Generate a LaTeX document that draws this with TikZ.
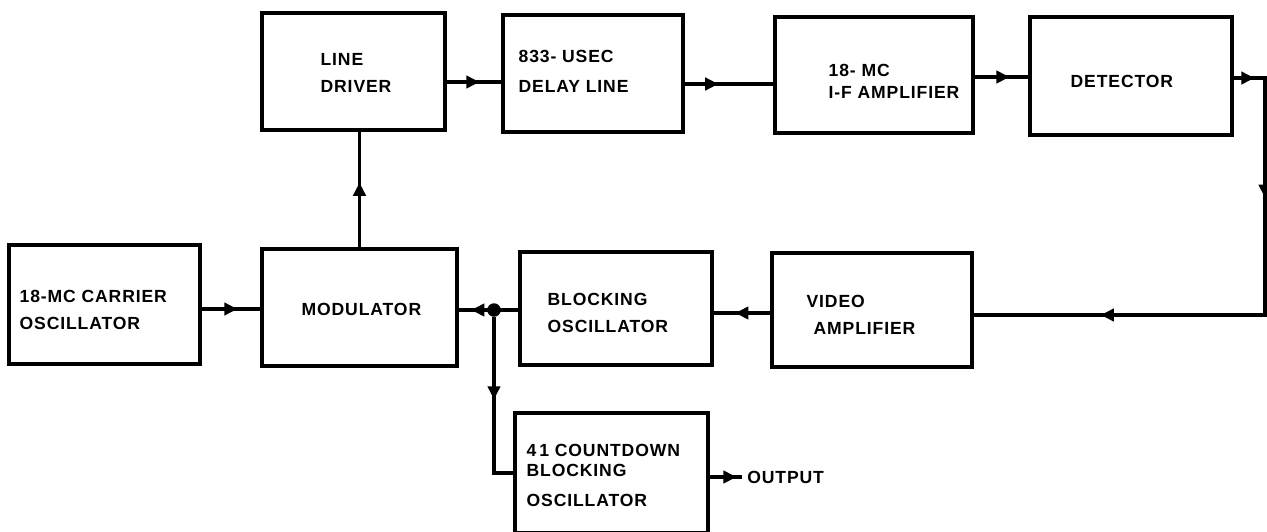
\documentclass[tikz,border=0pt]{standalone}
\usepackage{fontspec}
\newfontfamily\blockfont{Liberation Sans}[LetterSpace=5]
\usetikzlibrary{arrows.meta,decorations.markings,positioning}

\tikzset{
  blk/.style={draw, line width=2pt, rectangle, minimum height=2.34cm, inner sep=0pt},
  lbl/.style={font={\blockfont\bfseries\fontsize{10}{15}\selectfont}, align=left, inner sep=0pt, anchor=north west},
  wire/.style={line width=2pt},
  tipat/.style={postaction={decorate, decoration={markings,
      mark=at position #1 with {\arrow{Triangle[length=7.5pt,width=7pt]}}}}},
  dot/.style={circle, fill, inner sep=0pt, minimum size=0.27cm},
}

\begin{document}
\begin{tikzpicture}[x=0.02cm, y=-0.02cm]
\useasboundingbox (0,0) rectangle (1267,531);

% blocks
\node[blk, minimum width=3.82cm, minimum height=2.38cm] (carrier) at (104.5,304.5) {};
\node[blk, minimum width=3.9cm] (modulator) at (359.5,307.5) {};
\node[blk, minimum width=3.66cm] (linedrv) at (353.5,71.5) {};
\node[blk, minimum width=3.6cm] (delay) at (593,73.5) {};
\node[blk, minimum width=3.96cm, minimum height=2.32cm] (ifamp) at (874,75) {};
\node[blk, minimum width=4.04cm, minimum height=2.36cm] (detector) at (1131,76) {};
\node[blk, minimum width=4cm, minimum height=2.28cm] (video) at (872,310) {};
\node[blk, minimum width=3.84cm, minimum height=2.26cm] (blocking) at (616,308.5) {};
\node[blk, minimum width=3.86cm, minimum height=2.4cm] (countdown) at (611.5,473) {};

% labels
\node[lbl] (carrierT) at ([shift={(12,47)}]carrier.north west) {18-MC CARRIER\\OSCILLATOR};
\node[lbl] (modulatorT) at ([shift={(41,56)}]modulator.north west) {MODULATOR};
\node[lbl] (linedrvT) at ([shift={(60,42)}]linedrv.north west) {LINE\\DRIVER};
\node[lbl] (delayT) at ([shift={(17,37)}]delay.north west) {833- USEC\\[1.7pt]DELAY LINE};
\node[lbl] (ifampT) at ([shift={(55,49)}]ifamp.north west) {18- MC\\[-2.8pt]I-F AMPLIFIER};
\node[lbl] (detectorT) at ([shift={(42,60)}]detector.north west) {DETECTOR};
\node[lbl] (blockingT) at ([shift={(29,43)}]blocking.north west) {BLOCKING\\OSCILLATOR};
\node[lbl] (videoT) at ([shift={(36,44)}]video.north west) {VIDEO\\\hspace*{4pt}AMPLIFIER};
\node[lbl] (countdownT) at ([shift={(13,33)}]countdown.north west) {4\,1 COUNTDOWN\\[-3.7pt]BLOCKING\\[1.7pt]OSCILLATOR};
\node[lbl, anchor=west, inner xsep=0.1cm] (out) at (742,477) {OUTPUT};

% connectors
\node[dot] (jn) at (494,310) {};
\coordinate (cnr1) at (1265,78);
\coordinate (cnr2) at (1265,315);

\draw[wire, tipat=0.61] (carrier.east |- 0,309) -- (modulator.west |- 0,309);
\draw[wire, tipat=0.56] (modulator.north) -- (modulator.north |- linedrv.south);
\draw[wire, tipat=0.6] (linedrv.east |- 0,82) -- (delay.west |- 0,82);
\draw[wire, tipat=0.38] (delay.east |- 0,84) -- (ifamp.west |- 0,84);
\draw[wire, tipat=0.65] (ifamp.east |- 0,77) -- (detector.west |- 0,77);
\draw[wire, tipat=0.037, tipat=0.27, tipat=0.773] (detector.east |- cnr1) -- (cnr1) -- (cnr2) -- (video.east |- cnr2);
\draw[wire, tipat=0.62] (video.west |- 0,313) -- (blocking.east |- 0,313);
\draw[wire, tipat=0.79] (blocking.west |- jn) -- (modulator.east |- jn);
\draw[wire, tipat=0.47] (jn) |- (countdown.west);
\draw[wire, tipat=0.83] (countdown.east |- out) -- (out.west);
\end{tikzpicture}
\end{document}
